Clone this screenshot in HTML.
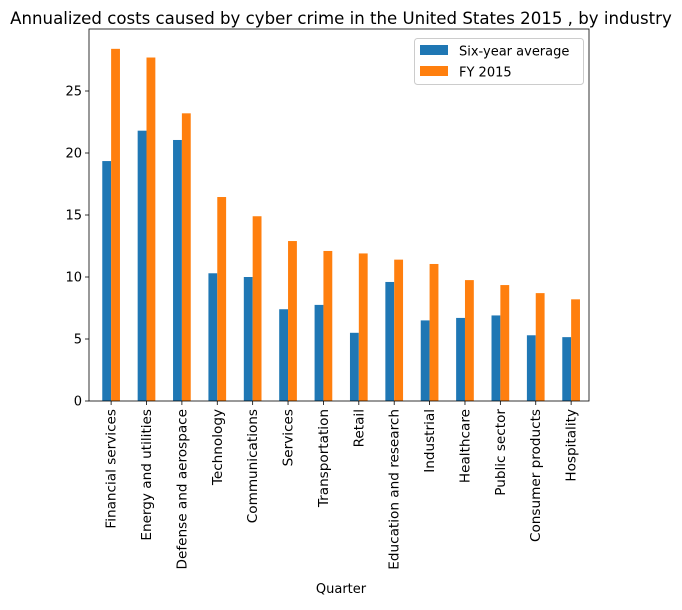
<!DOCTYPE html>
<html><head><meta charset="utf-8"><style>
body{margin:0;background:#fff;}
svg text{font-family:"DejaVu Sans","Liberation Sans",sans-serif;fill:#000;}
</style></head><body>
<svg id="chart" width="682" height="605" xmlns="http://www.w3.org/2000/svg">
<text x="341" y="24" font-size="16.6" text-anchor="middle">Annualized costs caused by cyber crime in the United States 2015 , by industry</text>
<g id="plot"></g>
<text x="341" y="593" font-size="13" text-anchor="middle">Quarter</text>
</svg>
<script>
const categories=["Financial services","Energy and utilities","Defense and aerospace","Technology","Communications","Services","Transportation","Retail","Education and research","Industrial","Healthcare","Public sector","Consumer products","Hospitality"];
const sixYear=[19.35,21.8,21.05,10.3,10.0,7.4,7.75,5.5,9.6,6.5,6.7,6.9,5.3,5.15];
const fy2015=[28.4,27.7,23.2,16.45,14.9,12.9,12.1,11.9,11.4,11.05,9.75,9.35,8.7,8.2];
const yTicks=[0,5,10,15,20,25];
const NS="http://www.w3.org/2000/svg";
const L=89,R=589,T=29,B=401,yMax=30;
const g=document.getElementById('plot');
function y(v){return B-(v/yMax)*(B-T);}
const step=(R-L)/(categories.length+0.13);
function x(i){return L+step*(i+0.625);}
function mk(t,a){const e=document.createElementNS(NS,t);for(const k in a)e.setAttribute(k,a[k]);g.appendChild(e);return e;}
const bw=step*0.25;
categories.forEach((c,i)=>{
 const b1=mk('rect',{x:x(i)-bw,y:y(sixYear[i]),width:bw,height:B-y(sixYear[i]),fill:'#1f77b4'});
 
 
 const b2=mk('rect',{x:x(i),y:y(fy2015[i]),width:bw,height:B-y(fy2015[i]),fill:'#ff7f0e'});
 
 
 mk('line',{x1:x(i),x2:x(i),y1:B,y2:B+4,stroke:'#000','stroke-width':0.8});
 const t=mk('text',{x:0,y:0,'font-size':13.6,'text-anchor':'end',transform:`translate(${x(i)+4.5},${B+8}) rotate(-90)`});
 t.textContent=c;
 
 
});
yTicks.forEach(v=>{
 mk('line',{x1:L-4,x2:L,y1:y(v),y2:y(v),stroke:'#000','stroke-width':0.8});
 const t=mk('text',{x:L-7,y:y(v)+4.5,'font-size':13,'text-anchor':'end'});
 t.textContent=v;
 
 
});
mk('rect',{x:L,y:T,width:R-L,height:B-T,fill:'none',stroke:'#000','stroke-width':0.8});
const lg=mk('g',{});


lg.innerHTML='<rect x="414.5" y="38.5" width="169" height="46" rx="3" fill="#fff" stroke="#ccc"/><rect x="420" y="45" width="28" height="10" fill="#1f77b4"/><text x="459" y="55.5" font-size="13">Six-year average</text><rect x="420" y="66" width="28" height="10" fill="#ff7f0e"/><text x="459" y="76.5" font-size="13">FY 2015</text>';
</script>
</body></html>
